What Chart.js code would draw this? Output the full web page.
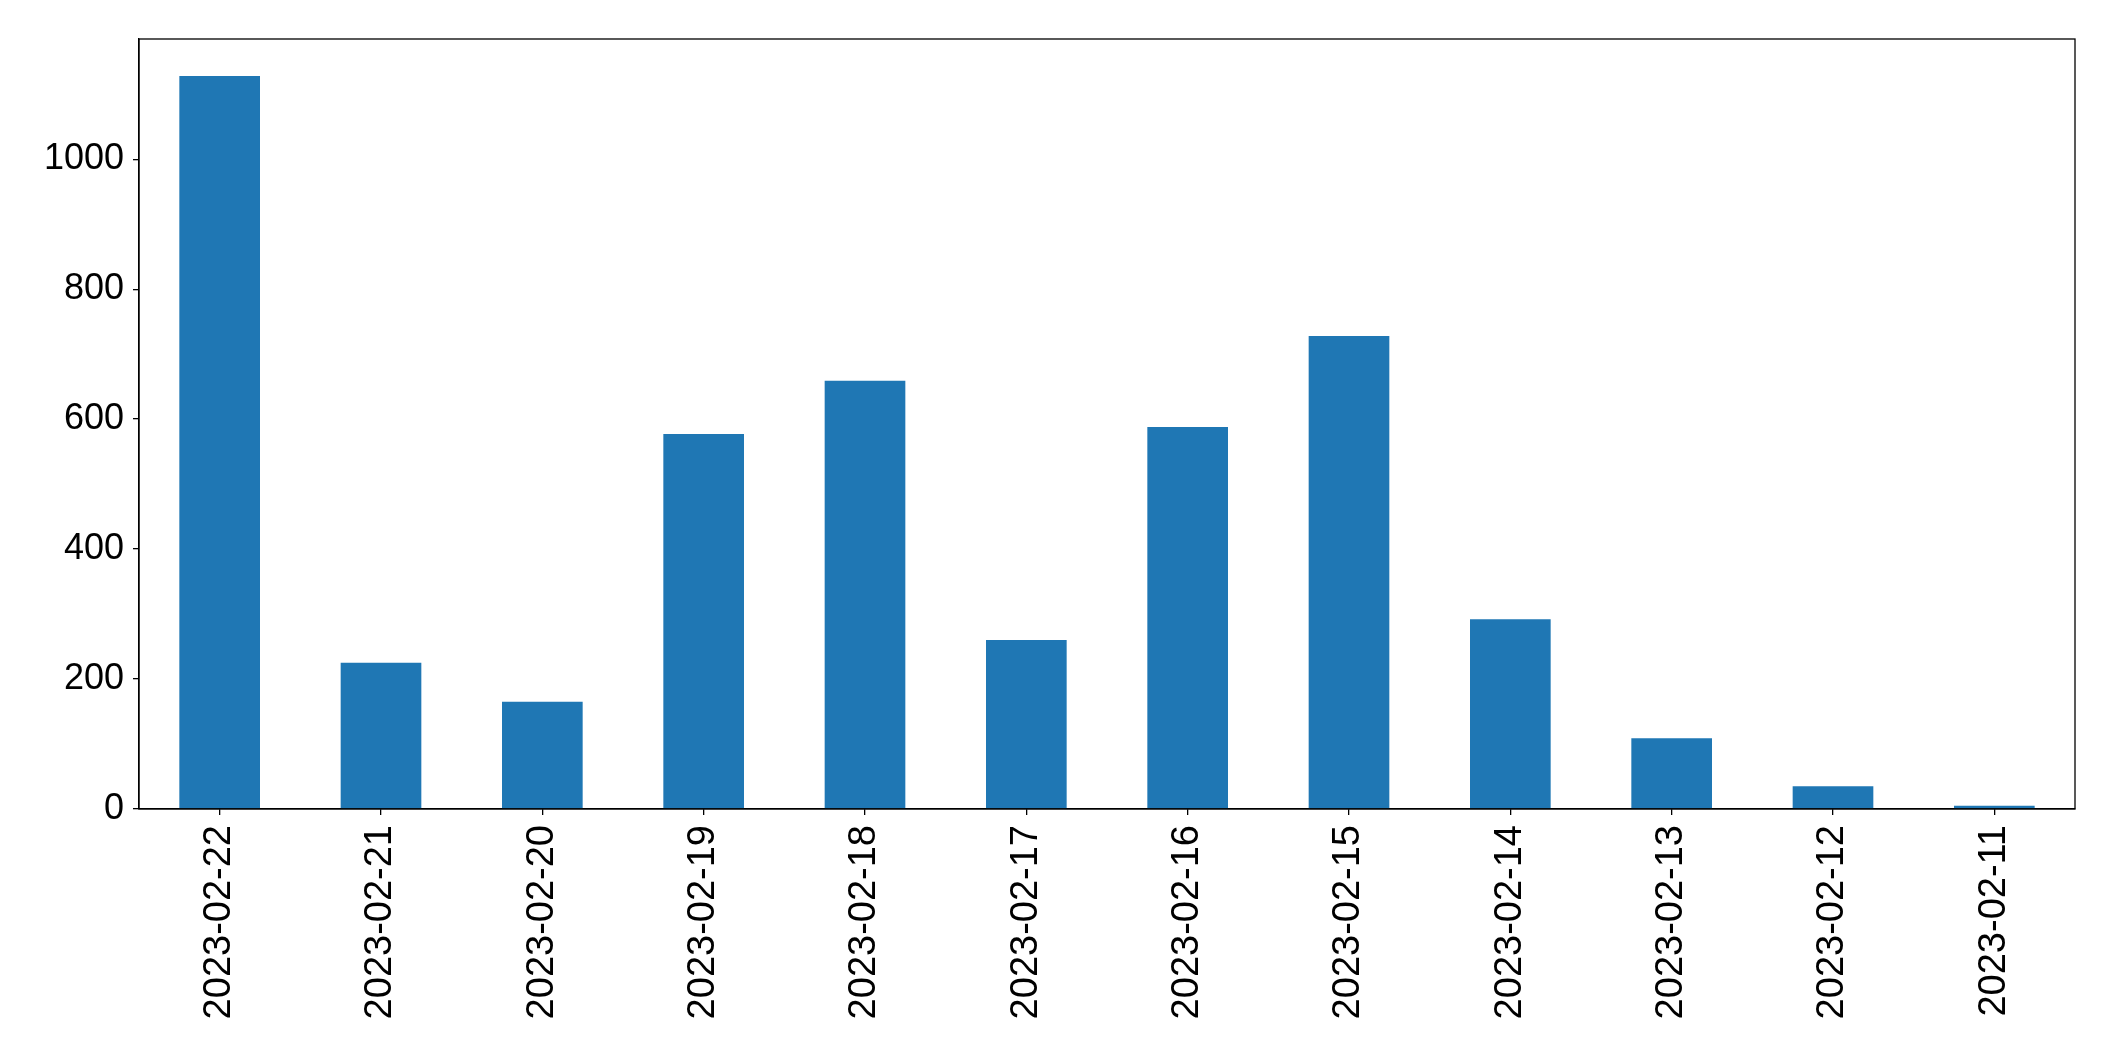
<!DOCTYPE html>
<html>
<head>
<meta charset="utf-8">
<script src="https://cdn.jsdelivr.net/npm/chart.js@4/dist/chart.umd.min.js"></script>
<style>
html,body{margin:0;padding:0;background:#fff;}
#wrap{width:2115px;height:1061px;position:relative;}
</style>
</head>
<body>
<div id="wrap"><canvas id="c" width="2115" height="1061"></canvas></div>
<script>
const categories = ["2023-02-22","2023-02-21","2023-02-20","2023-02-19","2023-02-18","2023-02-17","2023-02-16","2023-02-15","2023-02-14","2023-02-13","2023-02-12","2023-02-11"];
const counts = [1128, 225, 165, 577, 659, 260, 588, 728, 292, 109, 35, 5];
const yTicks = [0, 200, 400, 600, 800, 1000];

const frame = {
  id: 'frame',
  afterDraw(chart) {
    const a = chart.chartArea, ctx = chart.ctx;
    ctx.save();
    ctx.strokeStyle = '#000';
    ctx.lineWidth = 1.3;
    ctx.strokeRect(a.left, a.top, a.right - a.left, a.bottom - a.top);
    ctx.restore();
  }
};

new Chart(document.getElementById('c'), {
  type: 'bar',
  data: {
    labels: categories,
    datasets: [{
      data: counts,
      backgroundColor: '#1f77b4',
      borderWidth: 0,
      categoryPercentage: 1.0,
      barPercentage: 0.5
    }]
  },
  plugins: [frame],
  options: {
    responsive: false,
    animation: false,
    layout: { padding: { left: 0, top: 39, right: 40, bottom: 0 } },
    plugins: { legend: { display: false }, tooltip: { enabled: false } },
    scales: {
      x: {
        grid: { offset: false, drawOnChartArea: false, drawTicks: true, tickLength: 6, color: '#000', lineWidth: 1.3 },
        border: { display: true, color: '#000', width: 1.3 },
        ticks: {
          color: '#000',
          font: { family: 'Liberation Sans', size: 38 },
          minRotation: 90, maxRotation: 90,
          autoSkip: false,
          padding: 10
        },
        afterFit(s) { s.height = 252; }
      },
      y: {
        min: 0, max: 1185,
        grid: { drawOnChartArea: false, drawTicks: true, tickLength: 6, color: '#000', lineWidth: 1.3 },
        border: { display: true, color: '#000', width: 1.3 },
        afterBuildTicks(s) { s.ticks = yTicks.map(v => ({ value: v })); },
        ticks: {
          color: '#000',
          font: { family: 'Liberation Sans', size: 36 },
          padding: 9,
          callback: (v) => String(v)
        },
        afterFit(s) { s.width = 139; }
      }
    }
  }
});
</script>
</body>
</html>
